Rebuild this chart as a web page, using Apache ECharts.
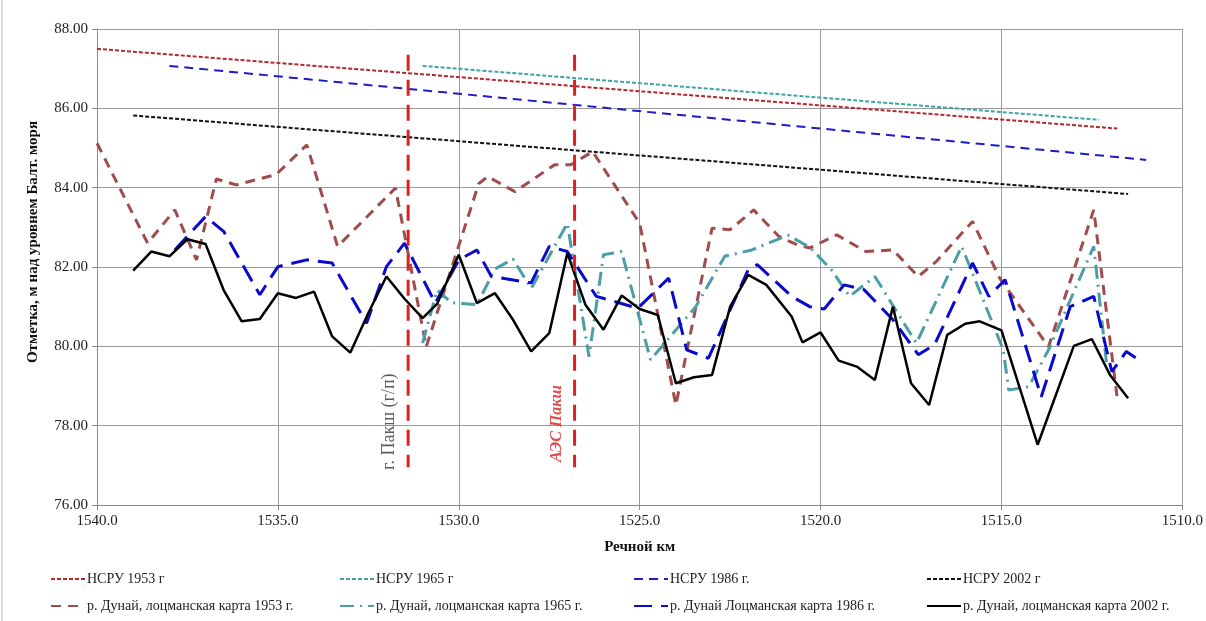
<!DOCTYPE html>
<html><head><meta charset="utf-8">
<script src="https://cdn.jsdelivr.net/npm/echarts@6/dist/echarts.min.js"></script>
<style>html,body{margin:0;padding:0;background:#fff}#c{width:1206px;height:621px}</style>
</head><body><div id="c"></div><script>
// ---- data (river km, elevation m) ----
const nsru1953 = [[1540.0, 87.50], [1511.8, 85.49]];
const nsru1965 = [[1531.0, 87.07], [1512.3, 85.71]];
const nsru1986 = [[1538.0, 87.07], [1511.0, 84.70]];
const nsru2002 = [[1539.0, 85.82], [1511.5, 83.84]];

const pilot1953 = [[1540.0,85.12],[1538.6,82.60],[1537.85,83.44],[1537.25,82.18],[1536.7,84.22],[1536.15,84.07],[1535.05,84.33],[1534.2,85.08],[1533.35,82.52],[1531.75,83.99],[1530.9,79.99],[1529.45,84.10],[1529.2,84.28],[1528.45,83.90],[1527.35,84.58],[1526.9,84.58],[1526.3,84.91],[1525.0,83.10],[1524.0,78.52],[1523.0,82.98],[1522.5,82.94],[1521.85,83.44],[1521.15,82.77],[1520.65,82.56],[1520.3,82.48],[1519.55,82.81],[1518.75,82.39],[1518.0,82.43],[1517.3,81.76],[1516.8,82.14],[1515.8,83.15],[1515.05,81.72],[1513.7,79.99],[1512.45,83.44],[1511.8,78.69]];

const pilot1965 = [[1531.0,80.08],[1530.6,81.42],[1530.2,81.10],[1529.5,81.05],[1529.0,81.95],[1528.5,82.20],[1528.0,81.46],[1527.0,83.10],[1526.4,79.74],[1526.0,82.31],[1525.5,82.39],[1524.7,79.66],[1523.45,81.00],[1522.65,82.27],[1521.9,82.43],[1521.2,82.69],[1520.9,82.80],[1520.3,82.50],[1519.7,81.93],[1519.2,81.26],[1518.5,81.76],[1517.35,80.08],[1516.1,82.52],[1514.95,79.91],[1514.8,78.90],[1514.25,78.98],[1513.7,79.91],[1512.45,82.52],[1512.1,79.60]];

const pilot1986 = [[1537.85,82.43],[1537.0,83.27],[1536.5,82.90],[1535.5,81.30],[1535.0,82.01],[1534.2,82.18],[1533.5,82.10],[1532.55,80.58],[1532.0,82.01],[1531.5,82.60],[1530.65,81.09],[1530.0,82.18],[1529.5,82.43],[1529.1,81.76],[1528.0,81.60],[1527.5,82.52],[1527.0,82.39],[1526.2,81.26],[1525.05,80.96],[1524.2,81.72],[1523.7,79.91],[1523.1,79.70],[1522.0,81.93],[1521.75,82.06],[1520.8,81.26],[1520.3,81.00],[1519.9,80.94],[1519.35,81.55],[1518.8,81.43],[1518.0,80.67],[1517.3,79.79],[1516.85,80.04],[1515.8,82.10],[1515.35,81.26],[1514.9,81.68],[1513.9,78.73],[1513.1,81.00],[1512.45,81.26],[1511.95,79.36],[1511.55,79.87],[1511.2,79.66]];

const pilot2002 = [[1539.0,81.91],[1538.5,82.39],[1538.0,82.27],[1537.5,82.70],[1537.0,82.58],[1536.5,81.42],[1536.0,80.63],[1535.5,80.69],[1535.0,81.34],[1534.5,81.22],[1534.0,81.38],[1533.5,80.25],[1533.0,79.84],[1532.5,80.84],[1532.0,81.76],[1531.5,81.20],[1531.0,80.71],[1530.6,81.07],[1530.0,82.31],[1529.5,81.09],[1529.0,81.34],[1528.5,80.67],[1528.0,79.87],[1527.5,80.33],[1527.0,82.35],[1526.5,81.05],[1526.0,80.42],[1525.5,81.28],[1525.0,80.94],[1524.5,80.79],[1524.0,79.07],[1523.5,79.22],[1523.0,79.28],[1522.5,81.00],[1522.0,81.80],[1521.5,81.55],[1520.8,80.75],[1520.5,80.10],[1520.0,80.35],[1519.5,79.64],[1519.0,79.49],[1518.5,79.15],[1518.0,81.00],[1517.5,79.07],[1517.0,78.52],[1516.5,80.29],[1516.0,80.57],[1515.6,80.63],[1515.0,80.40],[1514.0,77.52],[1513.0,80.01],[1512.5,80.18],[1512.0,79.28],[1511.5,78.69]];

const markerPaks = [[1531.4, 87.35], [1531.4, 76.95]];
const markerNPP = [[1526.8, 87.35], [1526.8, 76.95]];
const labelPaks = [[1531.93, 78.10, 'г. Пакш (г/п)']];
const labelNPP = [[1527.30, 78.05, 'АЭС Пакш']];

const seriesNames = ['НСРУ 1953 г', 'НСРУ 1965 г', 'НСРУ 1986 г.', 'НСРУ 2002 г',
  'р. Дунай, лоцманская карта 1953 г.', 'р. Дунай, лоцманская карта 1965 г.',
  'р. Дунай Лоцманская карта 1986 г.', 'р. Дунай, лоцманская карта 2002 г.'];
const xMin = 1510, xMax = 1540, xStep = 5;
const yMin = 76, yMax = 88, yStep = 2;
const xTitle = 'Речной км';
const yTitle = 'Отметка, м над уровнем Балт. моря';

const FONT = "'Liberation Serif', 'Times New Roman', serif";
const chart = echarts.init(document.getElementById('c'));

function line(name, data, color, width, type, z) {
  return { name, type: 'line', data, symbol: 'none', showSymbol: false, z: z || 2,
    lineStyle: { color, width, type, cap: 'butt' }, itemStyle: { color }, animation: false };
}
function legendCol(left, names) {
  return { orient: 'vertical', left, top: 567, itemWidth: 34, itemHeight: 14, itemGap: 13,
    data: names, itemStyle: { opacity: 0 },
    textStyle: { fontFamily: FONT, fontSize: 14, color: '#222', padding: [0,0,0,-3] } };
}

chart.setOption({
  animation: false,
  backgroundColor: '#fff',
  grid: { left: 97, right: 19, top: 29, bottom: 116, containLabel: false },
  legend: [
    legendCol(45, [seriesNames[0], seriesNames[4]]),
    legendCol(334, [seriesNames[1], seriesNames[5]]),
    legendCol(628, [seriesNames[2], seriesNames[6]]),
    legendCol(921, [seriesNames[3], seriesNames[7]])
  ],
  graphic: [
    { type: 'line', shape: { x1: 2, y1: 0, x2: 2, y2: 621 }, style: { stroke: '#b8b8b8', lineWidth: 1 } },
    { type: 'text', x: 33, y: 242, rotation: Math.PI / 2,
      style: { text: yTitle, font: "bold 15px 'Liberation Serif', serif", fill: '#111', align: 'center', verticalAlign: 'middle' } }
  ],
  xAxis: {
    type: 'value', min: xMin, max: xMax, interval: xStep, inverse: true,
    name: xTitle, nameLocation: 'middle', nameGap: 35,
    nameTextStyle: { fontFamily: FONT, fontSize: 15, fontWeight: 'bold', color: '#111' },
    axisLine: { lineStyle: { color: '#8a8a8a' } },
    axisTick: { show: true, length: 5, lineStyle: { color: '#8a8a8a' } },
    axisLabel: { formatter: v => v.toFixed(1), fontFamily: FONT, fontSize: 15, color: '#222', margin: 9 },
    splitLine: { show: true, lineStyle: { color: '#9a9a9a', width: 1 } }
  },
  yAxis: {
    type: 'value', min: yMin, max: yMax, interval: yStep,
    axisLine: { show: true, lineStyle: { color: '#8a8a8a' } },
    axisTick: { show: true, length: 5, lineStyle: { color: '#8a8a8a' } },
    axisLabel: { formatter: v => v.toFixed(2), fontFamily: FONT, fontSize: 15, color: '#222', margin: 9 },
    splitLine: { show: true, lineStyle: { color: '#9a9a9a', width: 1 } }
  },
  series: [
    line(seriesNames[0], nsru1953, '#b3282d', 2, [4, 2]),
    line(seriesNames[1], nsru1965, '#3ea3a3', 2, [4, 2]),
    line(seriesNames[2], nsru1986, '#1c1cc8', 2, [9, 6]),
    line(seriesNames[3], nsru2002, '#111111', 2, [4, 2]),
    line(seriesNames[4], pilot1953, '#a04c4b', 3, [10, 7]),
    line(seriesNames[5], pilot1965, '#4b9ea7', 3, [14, 6, 2, 6]),
    line(seriesNames[6], pilot1986, '#0a0acc', 3, [18, 9]),
    line(seriesNames[7], pilot2002, '#000000', 2.5, 'solid'),
    line('marker1', markerPaks, '#e02020', 3, [16, 9], 5),
    line('marker2', markerNPP, '#e02020', 3, [16, 9], 5),
    { name: 'lab1', type: 'scatter', data: labelPaks, symbolSize: 1, itemStyle: { color: 'rgba(0,0,0,0)' }, z: 6,
      label: { show: true, position: 'inside', rotate: 90, formatter: p => p.data[2],
        fontFamily: FONT, fontSize: 18, color: '#333' } },
    { name: 'lab2', type: 'scatter', data: labelNPP, symbolSize: 1, itemStyle: { color: 'rgba(0,0,0,0)' }, z: 6,
      label: { show: true, position: 'inside', rotate: 90, formatter: p => p.data[2],
        fontFamily: FONT, fontSize: 16, color: '#d42020', fontStyle: 'italic', fontWeight: 'bold' } }
  ]
});
</script></body></html>
